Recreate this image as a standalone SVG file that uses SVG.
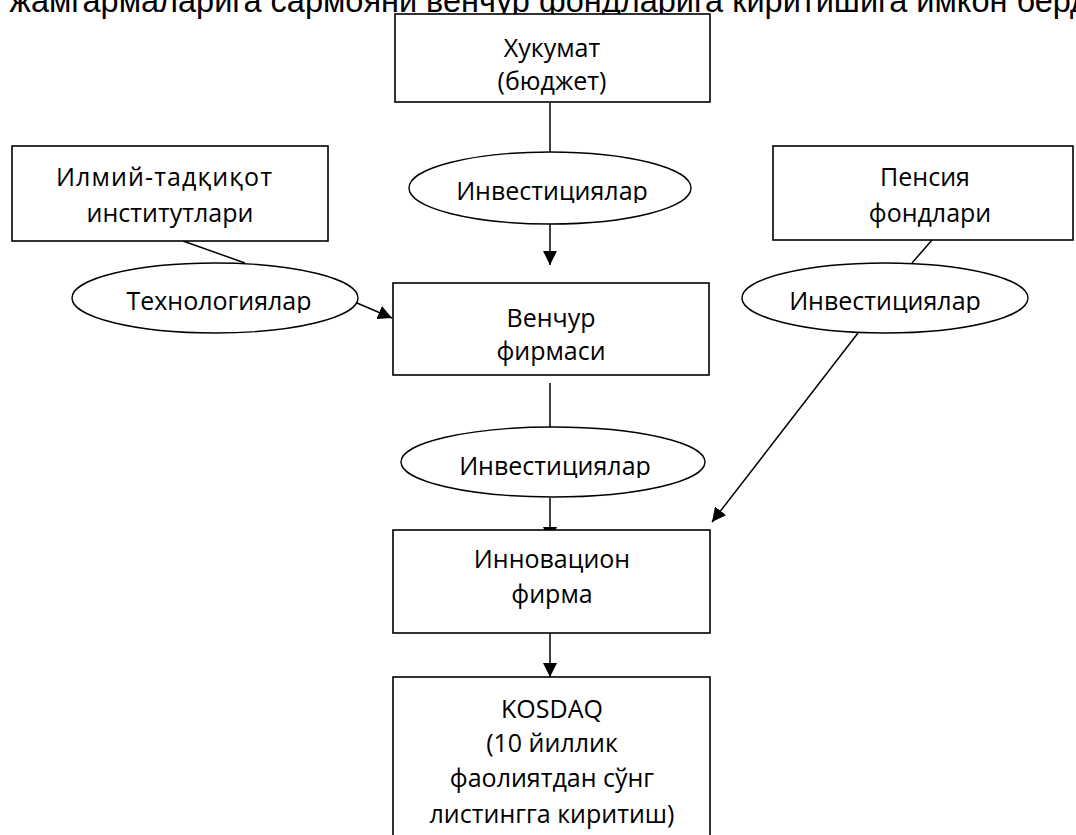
<svg xmlns="http://www.w3.org/2000/svg" width="1076" height="835" viewBox="0 0 1076 835">
<style>
  .box { fill: #ffffff; stroke: #000000; stroke-width: 1.6; }
  .ell { fill: #ffffff; stroke: #000000; stroke-width: 1.4; }
  .conn { fill: none; stroke: #000000; stroke-width: 1.5; }
  .lbl { font-family: "Open Sans", "Noto Sans", "DejaVu Sans", sans-serif; font-size: 25px; fill: #000000; text-anchor: middle; }
  .top { font-family: "Liberation Sans", Arial, sans-serif; font-size: 32.5px; fill: #000000; }
</style>
<defs>
  <marker id="arrow" viewBox="0 0 10 10" refX="10" refY="5" markerUnits="userSpaceOnUse" markerWidth="14" markerHeight="14" orient="auto">
    <path d="M0,0 L10,5 L0,10 z" fill="#000000"/>
  </marker>
  <clipPath id="clipE1"><rect x="400" y="150" width="300" height="53"/></clipPath>
  <clipPath id="clipE2"><rect x="60" y="260" width="310" height="53"/></clipPath>
  <clipPath id="clipE3"><rect x="730" y="260" width="310" height="53"/></clipPath>
  <clipPath id="clipE4"><rect x="395" y="425" width="320" height="53"/></clipPath>
</defs>
<rect x="0" y="0" width="1076" height="835" fill="#ffffff"/>

<text class="top" x="-18" y="12">и жамгармаларига сармояни венчур фондларига киритишига имкон берди</text>

<g id="connectors">
  <line class="conn" x1="550" y1="103" x2="550" y2="152"/>
  <line class="conn" x1="550" y1="224" x2="550" y2="265" marker-end="url(#arrow)"/>
  <line class="conn" x1="183" y1="241" x2="245" y2="263"/>
  <line class="conn" x1="357" y1="303" x2="392" y2="318" marker-end="url(#arrow)"/>
  <line class="conn" x1="932" y1="240" x2="912" y2="263"/>
  <line class="conn" x1="858" y1="333" x2="712" y2="522" marker-end="url(#arrow)"/>
  <line class="conn" x1="550" y1="383" x2="550" y2="428"/>
  <line class="conn" x1="550" y1="498" x2="550" y2="541" marker-end="url(#arrow)"/>
  <line class="conn" x1="550" y1="633" x2="550" y2="677" marker-end="url(#arrow)"/>
</g>

<g id="node-hukumat">
  <rect class="box" x="395" y="14" width="315" height="88"/>
  <text class="lbl" x="552" y="57">Хукумат</text>
  <text class="lbl" x="552" y="90">(бюджет)</text>
</g>

<g id="node-ilmiy">
  <rect class="box" x="12" y="146" width="316" height="95"/>
  <text class="lbl" x="164" y="186" textLength="216" lengthAdjust="spacing">Илмий-тадқиқот</text>
  <text class="lbl" x="170" y="222">институтлари</text>
</g>

<g id="node-pensiya">
  <rect class="box" x="773" y="146" width="300" height="94"/>
  <text class="lbl" x="925" y="186">Пенсия</text>
  <text class="lbl" x="930" y="222">фондлари</text>
</g>

<g id="node-inv1">
  <ellipse class="ell" cx="550" cy="188" rx="141" ry="36"/>
  <text class="lbl" x="552" y="200" clip-path="url(#clipE1)">Инвестициялар</text>
</g>

<g id="node-tech">
  <ellipse class="ell" cx="215" cy="298" rx="143" ry="35"/>
  <text class="lbl" x="219" y="310" clip-path="url(#clipE2)">Технологиялар</text>
</g>

<g id="node-inv2">
  <ellipse class="ell" cx="885" cy="298" rx="143" ry="35"/>
  <text class="lbl" x="885" y="310" clip-path="url(#clipE3)">Инвестициялар</text>
</g>

<g id="node-venchur">
  <rect class="box" x="393" y="283" width="316" height="92"/>
  <text class="lbl" x="551" y="327">Венчур</text>
  <text class="lbl" x="551" y="360">фирмаси</text>
</g>

<g id="node-inv3">
  <ellipse class="ell" cx="553" cy="462" rx="152" ry="35"/>
  <text class="lbl" x="555" y="475" clip-path="url(#clipE4)">Инвестициялар</text>
</g>

<g id="node-innovatsion">
  <rect class="box" x="393" y="530" width="317" height="103"/>
  <text class="lbl" x="552" y="568">Инновацион</text>
  <text class="lbl" x="552" y="603">фирма</text>
</g>

<g id="node-kosdaq">
  <rect class="box" x="393" y="677" width="317" height="170"/>
  <text class="lbl" x="552" y="718">KOSDAQ</text>
  <text class="lbl" x="552" y="752">(10 йиллик</text>
  <text class="lbl" x="552" y="787">фаолиятдан сўнг</text>
  <text class="lbl" x="552" y="823">листингга киритиш)</text>
</g>
</svg>
